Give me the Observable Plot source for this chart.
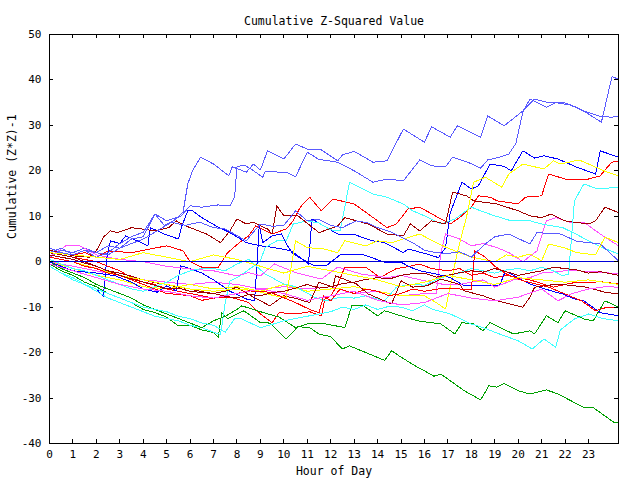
<!DOCTYPE html>
<html><head><meta charset="utf-8">
<script src="https://cdn.jsdelivr.net/npm/d3@7"></script>
<script src="https://cdn.jsdelivr.net/npm/@observablehq/plot@0.6"></script>
<style>body{margin:0;background:#fff}</style>
</head><body><div id="chart"></div>
<script>
const titleText = "Cumulative Z-Squared Value";
const xLabel = "Hour of Day";
const yLabel = "Cumulative (Z*Z)-1";
const xTicks = d3.range(0, 24);
const yTicks = [-40,-30,-20,-10,0,10,20,30,40,50];

// [hour, cumulative value]
const lbA = [[0,1],[0.5,2.5],[1,2],[1.5,3],[2,2],[2.5,3.5],[3,3],[3.5,5],[4,5.5],[4.5,10.5],[4.9,8],[5.3,9],[5.7,10.9],[5.9,17.1],[6.1,20],[6.45,23],[7,21.5],[7.65,18.9],[7.8,20.9],[8.4,19.7],[8.7,21.5],[9,20.2],[9.3,24.4],[10,22.6],[10.5,25.9],[11,24.8],[11.6,24.6],[12.3,22.2],[12.5,23.5],[13,24.3],[13.8,21.9],[14.4,22.2],[15.1,29.2],[16,26.3],[16.3,29.7],[17.1,27.4],[17.4,29.9],[18.4,27.4],[18.7,32.1],[19.4,29.9],[20.2,33.2],[20.7,35.8],[21.3,35],[21.9,35.1],[22.5,34],[23,32.5],[23.55,30.7],[24,40.7],[24.28,40.2]];
const lbB = [[0,2],[0.5,3],[1,1.5],[1.5,2.5],[2,1],[2.5,2],[3,4],[3.5,5.5],[4,6.5],[4.5,10.5],[5,9],[5.6,10],[6,12.3],[6.5,12],[7.2,12.5],[7.7,12.3],[7.9,14.2],[8,20.9],[8.3,21.3],[8.6,20.4],[9.1,18.6],[9.2,19.8],[10.1,19.7],[10.5,18.7],[11,24.1],[11.5,22.5],[12.3,21.9],[13,20],[13.8,17.5],[14.4,18.2],[15.1,17.8],[15.8,22.4],[16.3,21.1],[16.9,20.9],[17.2,23],[17.8,22],[18.4,20.6],[18.7,22.4],[19.2,23],[19.6,23.7],[19.9,26],[20.2,33],[20.5,35.8],[21.2,34],[21.6,35],[22.2,34.5],[22.9,33],[23.5,32],[24,31.8],[24.28,32.1]];
const lbC = [[0,3],[0.5,2],[1,1.5],[1.5,2.5],[2,2],[2.5,1.5],[3,3],[3.5,4],[4,5],[4.5,6.5],[5.2,8.7],[5.8,8],[6.4,8.7],[7,7.5],[7.5,7.2],[8.4,4.6],[8.7,6.5],[9,8.3],[9.5,7.8],[10,8],[10.5,11.2],[11,9],[11.5,9.3],[12,8],[12.5,7.5],[12.8,8.3],[13.1,9],[13.6,8.5],[14,7.5],[14.6,6.5],[15,5.4],[15.5,4.2],[16,2.5],[16.5,2],[17,1.8],[17.5,2.2],[18,1],[18.5,3.5],[19,5.5],[19.6,6.1],[20.5,3.9],[20.8,6.4],[21.8,6.1],[22.5,4.5],[23.5,3.9],[24.28,0.2]];
const blueA = [[0,-1],[0.5,-2.5],[1,-3.5],[1.5,-5],[2,-6],[2.3,-7.6],[2.45,1],[2.6,4.6],[3,4],[3.25,5.7],[4,4],[4.2,3.5],[4.3,7.5],[4.9,6.1],[5.5,5],[5.65,7.9],[5.9,11.2],[6.1,11.2],[6.5,9.7],[7.1,7.9],[7.7,6.4],[8.4,4.2],[9,3.5],[9.6,3.1],[10.3,2.4],[10.6,1.3],[11.05,-0.5],[11.2,9.4],[11.7,7.9],[12.3,6.1],[13,6.1],[13.3,5.4],[13.8,4.6],[14.3,4.2],[15.1,2],[15.3,2.8],[16.1,1.7],[16.6,0.9],[16.9,3.1],[17.1,10.8],[17.6,17.5],[18,16],[18.3,16.7],[18.8,21.5],[19.4,21],[19.7,20],[20.2,24.4],[20.7,22.8],[21.1,23.3],[21.7,22.6],[22.5,20.8],[23.3,19.3],[23.5,24.4],[24.28,23]];
const blueB = [[0,0],[0.5,-1],[1,-2],[2,-2.5],[2.8,-3.1],[3.5,-4.5],[4,-6],[4.6,-6.7],[5,-5.3],[5.4,-6.4],[5.6,-0.9],[6,-1.5],[6.5,-2.5],[7,-4],[7.7,-6.5],[8.4,-8.2],[8.75,-8.6],[8.85,-1],[8.95,8],[9.1,4.2],[9.5,5.7],[9.9,6.1],[10.2,3.1],[10.4,1.7],[10.8,0.5],[11.3,-0.9],[11.8,-0.9],[12.4,1.5],[13.3,1.7],[14.3,-0.1],[15,-0.1],[15.4,-1.2],[15.8,-2],[16.5,-2.7],[17.1,-3.5],[17.7,-5.3],[19.2,-5.3],[19.45,-2.1],[19.8,-3],[20.5,-4.9],[21.4,-6.4],[21.9,-7.1],[22.4,-8.2],[22.8,-8.6],[23.5,-11.2],[24.28,-11.9]];
const greenA = [[0,-0.5],[0.5,-2],[1,-3],[1.5,-4.5],[2,-5.5],[2.5,-7],[3,-8],[3.5,-9],[4,-10.5],[4.5,-11.2],[5,-12.2],[5.5,-14.1],[6,-14],[6.5,-15],[7,-15.6],[7.2,-16.6],[7.35,-11.2],[7.6,-12.5],[8,-11.5],[8.3,-10.8],[9,-13.4],[9.4,-13.5],[10.1,-17],[10.6,-14.3],[11.1,-14.5],[11.5,-15.9],[12,-16.5],[12.5,-19.2],[12.8,-18.5],[13.5,-20],[14.3,-21.7],[14.6,-19.6],[15,-21],[15.6,-22.9],[16,-24],[16.4,-25.2],[16.7,-24.7],[17.1,-26.2],[17.7,-28.4],[18.4,-30.4],[18.75,-27.3],[19.1,-27.6],[19.4,-26.8],[20,-28.4],[20.5,-29.1],[21.2,-28.2],[21.7,-29.1],[22.4,-31],[22.8,-32.1],[23.2,-32.1],[24.1,-35.4],[24.28,-35.4]];
const greenB = [[0,0],[0.5,-1.5],[1,-2.5],[1.5,-3.5],[2,-5],[2.5,-6],[3,-7],[3.5,-8],[4,-9.5],[4.5,-10.5],[5,-11.5],[5.5,-12.5],[6,-13.5],[6.5,-14.5],[7,-13],[7.5,-12],[8,-10.5],[8.2,-9.7],[9,-11],[9.8,-12.2],[10.5,-14.5],[11,-13.7],[11.8,-13.7],[12.6,-14.5],[12.9,-9.7],[13.4,-9.7],[14,-11.9],[14.3,-10.8],[15,-11.9],[15.7,-13],[16.7,-13.7],[17.3,-15.9],[17.6,-13.4],[18.1,-13.7],[18.5,-15.2],[18.8,-13.4],[19.8,-15.9],[20.5,-15.2],[20.7,-15.9],[21.2,-11.9],[21.7,-13.4],[22,-10.8],[22.5,-11.9],[22.8,-12.6],[23.2,-13],[23.7,-8.6],[24,-9.3],[24.28,-10]];
const redA = [[0,2.5],[0.5,2],[1,1.5],[1.5,2],[2,1],[2.5,2.4],[3,2.2],[3.5,2],[4,2.5],[4.5,3],[5,3.5],[5.7,2.4],[6,0],[6.5,-1.2],[7.2,-1.2],[7.6,2],[8.2,4.6],[8.5,5.7],[8.8,7.9],[9.5,6.1],[10.1,7.2],[10.4,9],[10.7,12],[11.1,14.2],[11.6,11.2],[12.1,13.8],[13,12.7],[13.6,10.5],[14,9],[14.4,7.5],[14.8,8.3],[15.3,11.6],[15.8,12],[16.6,9.7],[17.1,8.3],[17.5,9.7],[18,12],[18.3,14.5],[18.8,14.2],[19.1,13.4],[20,12.7],[20.3,14.2],[21,14.5],[21.3,19.3],[22,18.2],[23,18.2],[23.5,18.9],[23.8,20.8],[24,21.9],[24.28,22.2]];
const redB = [[0,2],[0.5,1.5],[1,1],[1.5,0.5],[2,0],[2.5,-1],[3,-2],[3.5,-3.5],[4,-4.5],[4.5,-5],[5,-6],[5.5,-6.5],[6,-7],[6.5,-7.5],[7,-8],[7.7,-7.8],[8.2,-8.5],[8.5,-9],[9,-11.5],[9.5,-13.4],[9.8,-11.2],[10.5,-11.5],[11.1,-11],[11.6,-11.9],[11.75,-8.2],[12,-7.5],[12.3,-5],[12.6,-1.2],[13.5,-1.2],[14.1,-3.5],[14.8,-1.5],[15.2,-1.2],[15.8,-0.5],[16.3,-1.5],[17,-2],[17.5,-1.5],[18,-3],[18.5,-2.5],[19,-3.5],[19.5,-3],[20.5,-4],[21,-4.8],[21.5,-5.6],[22,-5],[22.5,-4.5],[23,-4.6],[23.5,-4.4],[24.28,-4.9]];
const redC = [[0,1],[0.5,0.5],[1,0],[1.5,-1],[2,-1.5],[2.5,-2.5],[3,-3],[3.5,-4],[4,-5],[4.5,-6],[5,-7],[5.5,-7.2],[6,-7.5],[6.5,-8.5],[7,-8],[7.5,-7.5],[8,-7],[8.5,-6.4],[9,-6.6],[9.4,-6.7],[9.8,-7.5],[10.5,-9],[11.1,-10.5],[11.5,-11.2],[11.7,-7.5],[12,-8.6],[12.4,-6],[13,-7],[13.5,-6],[14,-6.5],[14.5,-7.5],[15,-7],[15.5,-6],[16,-6.5],[16.6,-6],[17.5,-6],[18,-6.2],[18.15,2.4],[18.6,1],[19,-1],[19.5,-2.7],[20.2,-4.2],[21.3,-5.6],[22,-7.1],[22.7,-8.6],[23.3,-10.8],[23.8,-10],[24.28,-10]];
const darkRedA = [[0,2.5],[0.5,2],[1,1.3],[1.7,1],[2,2.4],[2.3,5.4],[2.6,6.8],[2.9,6.4],[3.5,7.5],[4.5,6.8],[5.1,7.5],[5.4,9],[5.8,7.9],[6.7,6.1],[7.3,4.2],[7.7,6.8],[8,9.4],[8.4,8.3],[8.7,8.7],[9.3,7.2],[9.5,6.1],[9.7,12.3],[10,10.1],[10.6,10.1],[11.5,6.4],[12.3,7.9],[12.6,9.7],[13.6,8.3],[14.4,6.1],[15.1,5.7],[15.4,8.3],[15.8,6.8],[16.3,9],[16.9,8.3],[17.2,15.3],[17.8,14.5],[18.1,13.4],[19.1,12.7],[20,11.2],[20.5,10.1],[21,9.7],[21.4,10.5],[22,9],[22.4,8.7],[23,8.3],[23.3,9],[23.7,12],[24.28,10.8]];
const darkRedB = [[0,1.5],[0.5,1],[1,0.5],[1.5,-0.3],[2,-1],[2.5,-2],[3,-2.5],[3.5,-3.2],[4,-4],[4.5,-4.6],[5,-5],[5.5,-5.6],[6,-6],[6.5,-6.6],[7,-7],[7.5,-6.5],[8,-5.6],[8.6,-7.5],[9.4,-9.7],[10,-7.5],[10.6,-8.2],[11.1,-9],[11.5,-4.5],[12.1,-5.6],[12.2,-3.1],[13.1,-4.9],[13.6,-7.1],[14.6,-9.3],[15,-4.2],[15.5,-5.6],[16.1,-5.3],[16.7,-3.8],[17.5,-5],[17.7,-6.4],[18.5,-7.5],[19.1,-8.6],[20.2,-10],[20.5,-7.8],[20.7,-5.6],[21.7,-4.9],[22.9,-5.6],[23.7,-6.7],[24.28,-7.1]];
const darkRedC = [[0,2],[0.5,1.5],[1,1],[1.5,0],[2,-1],[2.5,-2],[3,-3],[3.5,-3.8],[4,-4.5],[4.5,-5.2],[5,-6],[5.5,-5.8],[6,-6.5],[6.5,-6.8],[7,-7],[7.5,-7.6],[8,-8],[8.5,-7.2],[9,-7.5],[9.5,-6.8],[10,-6.5],[10.5,-5.8],[11,-5],[11.5,-5.8],[12,-5.5],[12.5,-4.8],[13,-4.5],[13.5,-3.9],[14,-3.5],[14.5,-3.8],[15,-3],[15.5,-2.6],[16,-2.5],[16.5,-3.4],[17,-3],[17.5,-2.4],[18,-2],[18.5,-2.3],[19,-1.5],[19.5,-2.2],[20,-3],[20.5,-2.5],[21,-2],[21.5,-1.2],[22,-1.5],[22.5,-1.8],[23,-2.5],[23.5,-2.2],[24.28,-3]];
const cyanA = [[0,-1],[0.5,-2.5],[1,-4],[1.5,-5],[2,-6.5],[2.5,-8],[3,-9],[3.5,-10],[4,-11],[4.5,-12],[5,-12.5],[5.5,-13],[6,-14],[6.5,-14.5],[7,-15.5],[7.3,-16],[7.5,-9],[7.7,-4.2],[8,-3.5],[8.3,-2.5],[8.7,-1],[9,0.2],[9.2,3.1],[9.7,4.6],[10.1,4.6],[10.4,8.3],[11,9],[11.5,8.5],[12,7],[12.4,6.8],[12.6,12],[12.8,17.5],[13.8,14.9],[14.4,14.2],[15.1,12.7],[15.5,11.2],[16,10.1],[16.7,8.3],[17.3,9.4],[18,12],[18.5,11],[19,10.1],[19.7,9],[20.5,9],[21,8.3],[21.9,7.5],[22.5,6],[23,4.6],[23.6,3.1],[24.28,1.7]];
const cyanB = [[0,0.5],[0.5,-0.5],[1,-1.5],[1.5,-2],[2,-3],[2.5,-4],[3,-5],[3.5,-6],[4,-6.5],[4.5,-5.5],[5,-4.5],[5.5,-3],[6,-2],[6.5,-1.5],[7,-1.5],[7.5,-2],[8,-0.5],[8.5,0.5],[9.2,-2.7],[10,-4.9],[10.5,-5.5],[11.3,-7.8],[11.8,-8.6],[12.4,-7.8],[13,-8],[13.5,-7.5],[14.3,-8.6],[14.8,-5.6],[15.5,-4.9],[16,-5.2],[16.5,-4],[17,-3],[17.5,-2.5],[18,-1.5],[18.5,-2],[19,-2.5],[19.5,-1.8],[20,-1.5],[20.5,-2],[21,-1.2],[21.5,-2],[21.9,-3.1],[22.15,-2.7],[22.4,13.4],[22.8,17.1],[23.4,16],[24.28,16.4]];
const cyanC = [[0,-1],[0.5,-2.5],[1,-3.5],[1.5,-5],[2,-6],[2.5,-7],[3,-8],[3.5,-9],[4,-10],[4.5,-10.5],[5,-11],[5.5,-12],[6,-12.5],[6.5,-13.5],[7,-14],[7.5,-15.5],[7.9,-12.5],[8.2,-12.6],[9,-14.5],[9.5,-13.8],[10,-13],[10.5,-12.5],[11,-12],[11.5,-11.5],[12,-11],[12.5,-10],[13,-10.5],[13.5,-9.5],[14,-10.5],[14.5,-9.8],[15,-10],[15.5,-10.8],[16,-9.5],[16.3,-10.4],[17.1,-11.5],[18,-13.7],[18.5,-14.5],[19.2,-15.9],[20,-17.4],[20.6,-19.2],[21.1,-17],[21.6,-18.8],[21.8,-15],[22.4,-12.6],[23,-11.5],[23.6,-12.5],[24.28,-13]];
const magentaA = [[0,0],[0.5,-0.5],[1,-1],[1.5,-1.5],[2,-2],[2.5,-2.5],[3,-3],[3.5,-3.5],[4,-4],[4.5,-4.2],[5,-4.5],[6,-5],[7,-4.5],[8,-5],[9,-6],[10,-5.5],[11,-6],[12,-5.5],[13,-7],[14,-6.5],[15,-7.5],[16,-7],[16.5,-7],[16.7,2],[16.9,6.1],[17.5,5],[18,3.5],[18.5,4],[19.1,3.1],[19.6,2],[20.2,0],[20.8,2.4],[21.2,9],[21.6,9.7],[22.2,8.7],[22.8,8.7],[23.5,6.1],[24.28,3.5]];
const magentaB = [[0,1],[0.7,3.5],[1.3,3.5],[2,1.5],[3,0.5],[4,0],[5,-1],[6,-1.6],[7,-2],[8,-3.1],[8.5,-2.4],[9,-3.1],[9.6,-0.5],[10.5,-2.4],[11.6,-3.8],[12.3,-1.2],[13.3,-2.7],[14.4,-3.5],[15,-3],[16,-4.2],[16.7,-4.9],[17.5,-5],[18,-4.5],[18.5,-4],[19,-5.6],[19.8,-4],[20.5,-3.5],[21,-2.5],[22,-2],[22.5,-2],[23.3,-2.2],[24.28,-2.7]];
const magentaC = [[0,-0.5],[1,-2],[2,-3.5],[3,-5],[4,-6],[5,-6.5],[6,-7.5],[7,-8],[8,-7],[9,-6],[10,-7],[11,-8.5],[12,-7.5],[13,-6.5],[14,-8.5],[15,-9.5],[16,-9],[16.5,-8],[17,-7],[18,-8],[19,-8.6],[20,-7.8],[21,-6],[21.7,-8.6],[22.3,-7],[23,-6],[23.7,-5.5],[24.28,-5.6]];
const yellowA = [[0,0],[1,-1.5],[2,-3],[3,-4],[4,-5.5],[5,-6],[6,-5],[7,-6],[8,-5.5],[9,-6.5],[10,-5],[11,-6.5],[12,-6],[13,-5.5],[14,-6.5],[15,-7.5],[16,-7.5],[16.5,-9],[16.9,-10.4],[17.4,2],[17.8,10],[18.1,17.5],[18.6,18.6],[19.3,16.4],[19.6,19.3],[20.2,21.5],[21.1,20.4],[21.5,22.2],[21.8,21.5],[22.6,22.4],[23.8,19.7],[24.28,18.9]];
const yellowB = [[0,1],[1,0],[2,-1.5],[3,-3],[4,-4],[5,-5],[6,-6],[7,-6.5],[8,-6],[8.8,-6.4],[9.6,-7.5],[10.1,-7.8],[10.5,4.6],[11,3.1],[11.7,2.8],[12.3,2],[12.6,4.6],[13.5,3.5],[14,4.6],[14.6,4.2],[15.1,5],[15.8,6.1],[16.5,4.2],[17,3],[18,1],[19,0],[19.5,1.5],[20,1],[20.5,1.7],[21,0.2],[21.3,3.9],[22,3],[22.5,2],[23.3,1.5],[23.7,5.4],[24.28,4.2]];
const yellowC = [[0,2],[1,1.5],[2,1],[3,0.5],[4,2],[5,1],[6,0],[7,1.5],[8,0.5],[9,-1],[10,-2.5],[11,-1],[12,-2],[13,-3],[14,-4],[15,-5.5],[16,-4.5],[17,-3],[18,-4],[19,-5],[20,-3.5],[21,-4],[22,-4.5],[23,-4],[24.28,-5]];

const palette = {lightblue:"#5a5aff", blue:"#0000ff", green:"#00a000", red:"#ff0000", darkred:"#a00000", cyan:"#40ffff", magenta:"#ff50ff", yellow:"#ffff00"};
const series = [
  ["redA", redA, "red"], ["greenA", greenA, "green"], ["blueA", blueA, "blue"], ["magentaA", magentaA, "magenta"],
  ["cyanA", cyanA, "cyan"], ["darkRedA", darkRedA, "darkred"], ["yellowA", yellowA, "yellow"], ["lbA", lbA, "lightblue"],
  ["redB", redB, "red"], ["greenB", greenB, "green"], ["blueB", blueB, "blue"], ["magentaB", magentaB, "magenta"],
  ["cyanB", cyanB, "cyan"], ["darkRedB", darkRedB, "darkred"], ["yellowB", yellowB, "yellow"], ["lbB", lbB, "lightblue"],
  ["redC", redC, "red"], ["magentaC", magentaC, "magenta"], ["cyanC", cyanC, "cyan"], ["darkRedC", darkRedC, "darkred"],
  ["yellowC", yellowC, "yellow"], ["lbC", lbC, "lightblue"]
];
const rows = series.flatMap(([name, pts, col]) => pts.map(([x, y]) => ({x, y, s: name, c: palette[col]})));

const W = 640, H = 480, mL = 49, mR = 22, mT = 34, mB = 37;
const iw = W - mL - mR, ih = H - mT - mB;
const font = "'DejaVu Sans Mono', monospace";

const chart = Plot.plot({
  width: W, height: H,
  marginLeft: mL, marginRight: mR, marginTop: mT, marginBottom: mB,
  style: {fontFamily: font, fontSize: "11px", color: "#000", background: "#fff"},
  x: {domain: [0, 24.28]},
  y: {domain: [-40, 50]},
  color: {type: "identity"},
  marks: [
    Plot.line(rows, {x: "x", y: "y", z: "s", stroke: "c", strokeWidth: 1, shapeRendering: "crispEdges"}),
    Plot.ruleY([0], {stroke: "#0000d8", strokeWidth: 1, shapeRendering: "crispEdges"}),
    Plot.frame({stroke: "#000", strokeWidth: 1, shapeRendering: "crispEdges"}),
    Plot.tickX(xTicks, {x: d => d, insetTop: ih - 4, stroke: "#000", shapeRendering: "crispEdges"}),
    Plot.tickX(xTicks, {x: d => d, insetBottom: ih - 4, stroke: "#000", shapeRendering: "crispEdges"}),
    Plot.tickY(yTicks, {y: d => d, insetRight: iw - 4, stroke: "#000", shapeRendering: "crispEdges"}),
    Plot.tickY(yTicks, {y: d => d, insetLeft: iw - 4, stroke: "#000", shapeRendering: "crispEdges"}),
    Plot.axisX(xTicks, {anchor: "bottom", tickSize: 0, tickPadding: 7, label: null, tickFormat: d => String(d)}),
    Plot.axisY(yTicks, {anchor: "left", tickSize: 0, tickPadding: 8, label: null, tickFormat: d => String(d)}),
    Plot.text([titleText], {frameAnchor: "top", dy: -18, text: d => d, fill: "#000", fontSize: 11.5}),
    Plot.text([xLabel], {frameAnchor: "bottom", dy: 31, text: d => d, fill: "#000", fontSize: 11.5}),
    Plot.text([yLabel], {frameAnchor: "left", dx: -37, rotate: -90, text: d => d, fill: "#000", fontSize: 11.5})
  ]
});
document.getElementById("chart").appendChild(chart);
</script></body></html>
